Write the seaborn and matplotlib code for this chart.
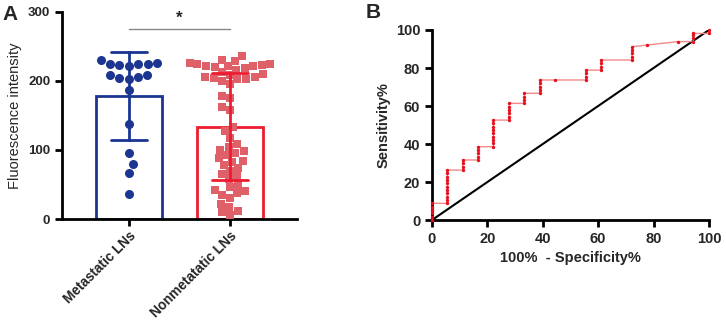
import numpy as np
import pandas as pd
import matplotlib
matplotlib.use('Agg')
import matplotlib.pyplot as plt
import seaborn as sns

# panel A data: fluorescence intensity per lymph node
groups = ['Metastatic LNs', 'Nonmetatatic LNs']
metastatic = [230, 226, 225, 224, 224, 223, 222, 208, 208, 206, 204, 203,
              187, 138, 96, 79, 67, 36]
nonmetastatic = [236, 230, 228, 226, 225, 224, 223, 222, 222, 221, 220, 218,
                 216, 213, 210, 208, 206, 205, 204, 203, 202, 200,
                 195, 178, 175, 162, 158,
                 133, 128, 118, 108,
                 104, 100, 98, 96, 92, 88, 84, 82, 78, 74, 70, 65,
                 62, 58, 50, 46, 42, 40, 38, 35,
                 30, 22, 18, 12, 10, 6]

# panel B data: ROC curve points (%)
roc_fpr = [0, 0, 0, 0, 0, 0,
           5.6, 5.6, 5.6, 5.6, 5.6, 5.6, 5.6, 5.6, 5.6, 5.6, 5.6,
           11.1, 11.1, 11.1, 11.1,
           16.7, 16.7, 16.7, 16.7, 16.7,
           22.2, 22.2, 22.2, 22.2, 22.2, 22.2, 22.2, 22.2, 22.2,
           27.8, 27.8, 27.8, 27.8, 27.8, 27.8,
           33.3, 33.3, 33.3, 33.3,
           38.9, 38.9, 38.9, 38.9, 38.9,
           44.4,
           55.6, 55.6, 55.6, 55.6,
           61.1, 61.1, 61.1, 61.1,
           72.2, 72.2, 72.2, 72.2, 72.2,
           77.8,
           88.9,
           94.4, 94.4, 94.4, 94.4,
           100, 100]
roc_sens = [0, 1.8, 3.5, 5.3, 7.0, 8.8,
            8.8, 10.5, 12.3, 14.0, 15.8, 17.5, 19.3, 21.1, 22.8, 24.6, 26.3,
            26.3, 28.1, 29.8, 31.6,
            31.6, 33.3, 35.1, 36.8, 38.6,
            38.6, 40.4, 42.1, 43.9, 45.6, 47.4, 49.1, 50.9, 52.6,
            52.6, 54.4, 56.1, 57.9, 59.6, 61.4,
            61.4, 63.2, 64.9, 66.7,
            66.7, 68.4, 70.2, 71.9, 73.7,
            73.7,
            73.7, 75.4, 77.2, 78.9,
            78.9, 80.7, 82.5, 84.2,
            84.2, 86.0, 87.7, 89.5, 91.2,
            92.1,
            93.9,
            93.9, 95.6, 97.4, 98.2,
            98.2, 100]

navy = '#1b3590'
red = '#ee1c30'
pink = '#e0606a'

sns.set_theme(style='ticks')
plt.rcParams['font.family'] = ['Liberation Sans', 'DejaVu Sans']

df = pd.DataFrame({
    'group': [groups[0]] * len(metastatic) + [groups[1]] * len(nonmetastatic),
    'value': metastatic + nonmetastatic,
})

fig = plt.figure(figsize=(7.26, 3.26), dpi=100)
axA = fig.add_axes([0.0854, 0.328, 0.3236, 0.636])
axB = fig.add_axes([0.595, 0.325, 0.3815, 0.583])

# ---- panel A
for g, c in zip(groups, [navy, red]):
    sns.barplot(data=df[df['group'] == g], x='group', y='value', order=groups,
                color=c, fill=False, errorbar='sd', capsize=0.35, width=0.65,
                linewidth=2, err_kws={'color': c, 'linewidth': 2, 'zorder': 4},
                ax=axA)
sns.swarmplot(data=df[df['group'] == groups[0]], x='group', y='value', order=groups,
              color=navy, size=6.5, marker='o', linewidth=0, ax=axA, zorder=3)
axA.collections[-1].set_sizes([7.2 ** 2])
sns.swarmplot(data=df[df['group'] == groups[1]], x='group', y='value', order=groups,
              color=pink, size=2.8, marker='s', linewidth=0, ax=axA, zorder=3)
axA.collections[-1].set_sizes([6 ** 2])

axA.set_xlim(-0.66, 1.66)
axA.set_ylim(0, 300)
axA.set_yticks([0, 100, 200, 300])
axA.set_xlabel('')
axA.set_ylabel('Fluorescence intensity', fontsize=10.5)
axA.tick_params(axis='both', length=5, width=2, color='black')
axA.tick_params(axis='x', pad=2)
for lab in axA.get_yticklabels():
    lab.set_fontweight('bold')
    lab.set_fontsize(9.5)
axA.set_xticks([0, 1])
axA.set_xticklabels(groups, rotation=45, ha='right', rotation_mode='anchor',
                    fontweight='bold', fontsize=9.8)
for s in ['left', 'bottom']:
    axA.spines[s].set_linewidth(2)
    axA.spines[s].set_color('black')
sns.despine(ax=axA)

axA.plot([0, 1], [275, 275], color='#888888', lw=1, clip_on=False)
axA.text(0.5, 280, '*', ha='center', va='bottom', fontsize=12, fontweight='bold')

# ---- panel B
sns.lineplot(x=[0, 100], y=[0, 100], color='black', lw=1.5, ax=axB)
sns.lineplot(x=roc_fpr, y=roc_sens, sort=False, estimator=None, color='#f28a8a',
             lw=1, ax=axB)
sns.scatterplot(x=roc_fpr, y=roc_sens, color='#e8101e', marker='o', s=6,
                linewidth=0, ax=axB, clip_on=False, zorder=5)
axB.set_xlim(0, 100)
axB.set_ylim(0, 100)
axB.set_xticks(range(0, 101, 20))
axB.set_yticks(range(0, 101, 20))
axB.tick_params(axis='both', length=5, width=2, color='black', labelsize=10.5)
for lab in axB.get_xticklabels() + axB.get_yticklabels():
    lab.set_fontweight('bold')
axB.set_xlabel('100%  - Specificity%', fontsize=10.5, fontweight='bold')
axB.set_ylabel('Sensitivity%', fontsize=10.5, fontweight='bold')
for s in ['left', 'bottom']:
    axB.spines[s].set_linewidth(2)
    axB.spines[s].set_color('black')
sns.despine(ax=axB)

fig.text(0.003, 0.985, 'A', fontsize=15, fontweight='bold', va='top')
fig.text(0.503, 0.99, 'B', fontsize=15, fontweight='bold', va='top')

fig.savefig('out.png', dpi=100)
